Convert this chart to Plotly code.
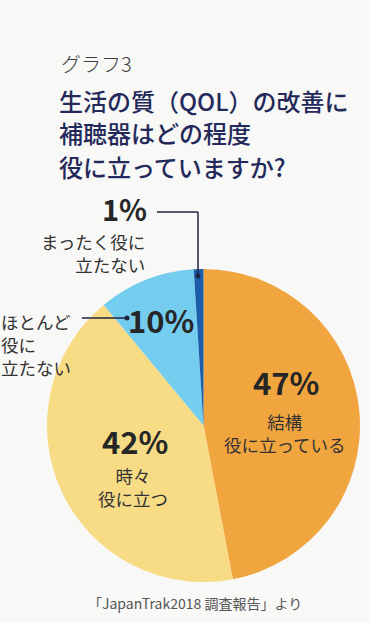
import plotly.graph_objects as go

# ---- data ----
categories = ["結構<br>役に立っている", "時々<br>役に立つ", "ほとんど<br>役に<br>立たない", "まったく役に<br>立たない"]
values = [47, 42, 10, 1]
colors = ["#F1A53F", "#F8DB85", "#74CDEE", "#1A5EA8"]

title_small = "グラフ3"
title_lines = ["生活の質（QOL）の改善に", "補聴器はどの程度", "役に立っていますか?"]
source_text = "「JapanTrak2018 調査報告」より"

W, H = 369, 623
FONT = "Noto Sans CJK JP"
BG = "#F8F8F6"


def px(x, y):
    return x / W, 1 - y / H


fig = go.Figure()
fig.add_trace(go.Pie(
    labels=categories,
    values=values,
    marker=dict(colors=colors, line=dict(width=0)),
    sort=False,
    direction="clockwise",
    rotation=0,
    textinfo="none",
    hoverinfo="label+percent",
    showlegend=False,
    domain=dict(x=[47 / W, 360 / W], y=[1 - 582 / H, 1 - 269 / H]),
))

ann = []


def add_text(x, y, text, size, color, xanchor="center", weight=400, family=FONT, yanchor="middle"):
    ax, ay = px(x, y)
    ann.append(dict(x=ax, y=ay, xref="paper", yref="paper", text=text, showarrow=False,
                    xanchor=xanchor, yanchor=yanchor, align=xanchor,
                    font=dict(family=family, size=size, color=color, weight=weight)))


# titles
add_text(59, 63, title_small, 20, "#3a3a3a", xanchor="left", weight=300)
for i, line in enumerate(title_lines):
    add_text(57, 100 + i * 33, line, 24, "#23295A", xanchor="left", weight=500)

pct = [f"{v}%" for v in values]
NUM = "#262626"
LAB = "#333333"

# 47% orange
add_text(286, 381, pct[0], 31, NUM, weight=700)
add_text(285, 433, categories[0], 17.5, LAB)
# 42% yellow
add_text(135, 440, pct[1], 31, NUM, weight=700)
add_text(133, 487, categories[1], 17.5, LAB)
# 10% light blue
add_text(161, 320, pct[2], 31, NUM, weight=700)
add_text(-1, 344, categories[2], 17.5, LAB, xanchor="left")
# 1% dark blue
add_text(124, 208, pct[3], 29, NUM, weight=700)
add_text(147, 253, categories[3], 17.5, LAB, xanchor="right")

# source
add_text(195, 603, source_text, 14, "#555555")

shapes = []
LINE = "#1f2440"


def seg(x0, y0, x1, y1):
    a0, b0 = px(x0, y0)
    a1, b1 = px(x1, y1)
    shapes.append(dict(type="line", xref="paper", yref="paper", x0=a0, y0=b0, x1=a1, y1=b1,
                       line=dict(color=LINE, width=1.5)))


def dot(x, y, r=2.5):
    a0, b0 = px(x - r, y + r)
    a1, b1 = px(x + r, y - r)
    shapes.append(dict(type="circle", xref="paper", yref="paper", x0=a0, y0=b0, x1=a1, y1=b1,
                       fillcolor=LINE, line=dict(width=0)))


# leader for 1%
seg(157, 212, 198, 212)
seg(198, 212, 198, 276)
dot(198, 276)
# leader for 10%
seg(82, 318, 127, 318)
dot(127, 318)

fig.update_layout(
    width=W, height=H,
    margin=dict(l=0, r=0, t=0, b=0),
    paper_bgcolor=BG, plot_bgcolor=BG,
    annotations=ann,
    shapes=shapes,
    font=dict(family=FONT),
)

fig.write_html("out.html", config={"displayModeBar": False},
               post_script="document.body.style.margin='0';document.body.style.padding='0';")
